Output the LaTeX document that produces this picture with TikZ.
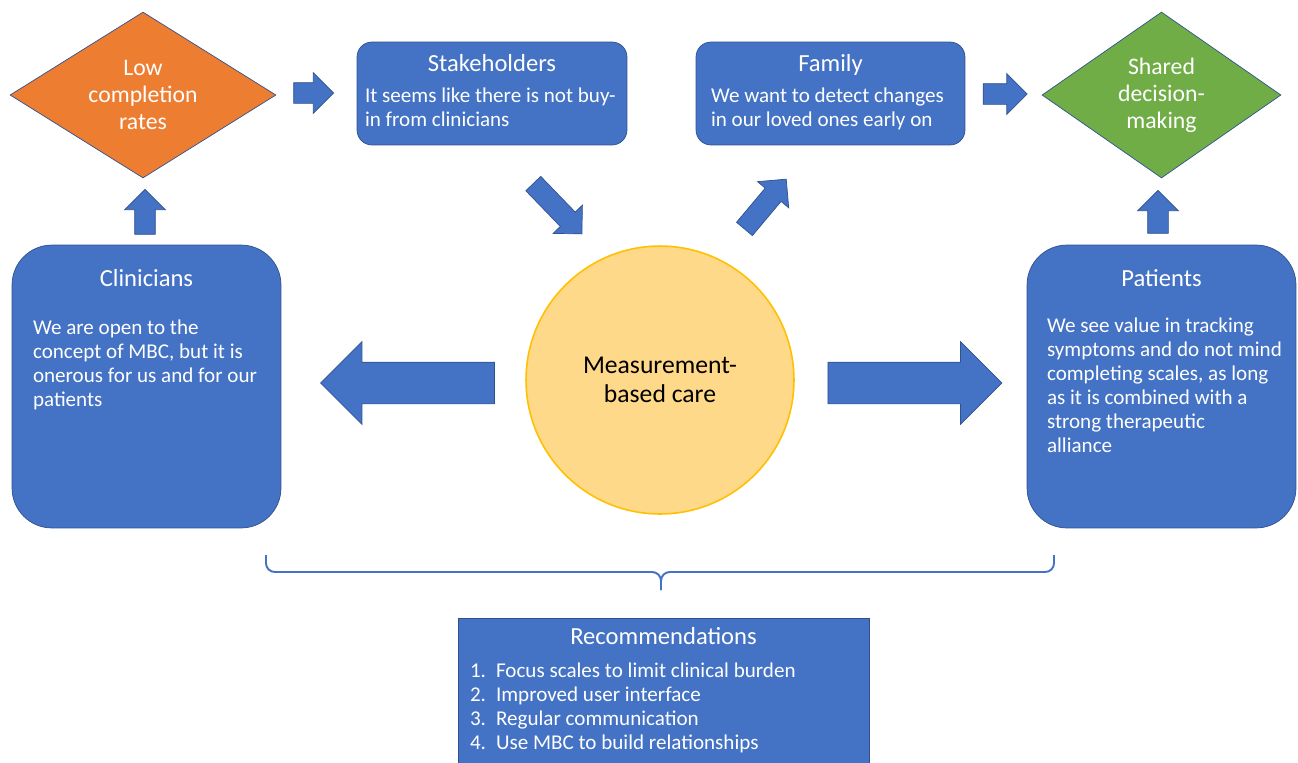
\documentclass[tikz,border=0pt]{standalone}
\usepackage{fontspec}
\setmainfont{Carlito}
\usetikzlibrary{shapes.geometric, shapes.arrows, positioning, calc}
\definecolor{boxblue}{RGB}{68, 114, 196}
\definecolor{edgeblue}{RGB}{47, 82, 143}
\definecolor{loworange}{RGB}{237, 125, 49}
\definecolor{sdmgreen}{RGB}{112, 173, 71}
\definecolor{mbcfill}{RGB}{255, 217, 138}
\definecolor{mbcedge}{RGB}{255, 192, 0}

\begin{document}
\begin{tikzpicture}[
          x=0.02cm, y=-0.02cm,
          box/.style={draw=edgeblue, fill=boxblue, rounded corners=0.3cm,
                      minimum width=5.4cm, minimum height=2.06cm},
          bigbox/.style={draw=edgeblue, fill=boxblue, rounded corners=0.8cm,
                      minimum width=5.38cm, minimum height=5.66cm},
          dia/.style={diamond, aspect=1.6, draw=edgeblue, text=white, align=center, inner sep=0pt,
                      font=\fontsize{13.5}{15.3}\selectfont},
          ttl/.style={text=white, inner sep=0pt, font=\fontsize{14}{16}\selectfont},
          body/.style={text=white, align=left, inner sep=0pt, font=\fontsize{12}{13.6}\selectfont},
          smallarr/.style={single arrow, draw=edgeblue, fill=boxblue, inner xsep=0pt, inner ysep=0.2cm,
                      single arrow head extend=0.2cm, minimum height=#1},
          bigarr/.style={single arrow, draw=edgeblue, fill=boxblue, inner xsep=0pt, inner ysep=0.41cm,
                      single arrow head extend=0.41cm, minimum height=3.48cm},
          bracket/.style={boxblue, line width=1.1pt, rounded corners=5pt},
        ]
        \useasboundingbox (0,0) rectangle (1298,762);

        % top row
        \node[dia, fill=loworange, minimum width=5.32cm, minimum height=3.32cm] (low) at (143,95)
              {Low\\completion\\rates};
        \node[box] (stake) at (492,93.5) {};
        \node[box, minimum width=5.38cm] (fam) at (830.5,93.5) {};
        \node[dia, fill=sdmgreen, minimum width=4.78cm, minimum height=3.32cm] (sdm) at (1161.5,95)
              {Shared\\decision-\\making};

        \node[ttl, below=0.24cm of stake.north] (stakeT) {Stakeholders};
        \node[body, below right=0.92cm and 0.16cm of stake.north west] (stakeB)
              {It seems like there is not buy-\\in from clinicians};
        \node[ttl, below=0.24cm of fam.north] (famT) {Family};
        \node[body, below right=0.92cm and 0.3cm of fam.north west] (famB)
              {We want to detect changes\\in our loved ones early on};

        % middle row
        \node[bigbox] (clin) at (146.5,386.5) {};
        \node[bigbox] (pat) at (1161.5,386.5) {};
        \node[circle, draw=mbcedge, line width=0.9pt, fill=mbcfill, minimum size=5.36cm, align=center,
              font=\fontsize{14.6}{16.4}\selectfont] (mbc) at (660,380) {Measurement-\\based care};

        \node[ttl, below=0.49cm of clin.north] (clinT) {Clinicians};
        \node[body, below right=1.5cm and 0.42cm of clin.north west] (clinB)
              {We are open to the\\concept of MBC, but it is\\onerous for us and for our\\patients};
        \node[ttl, below=0.49cm of pat.north] (patT) {Patients};
        \node[body, below right=1.46cm and 0.4cm of pat.north west] (patB)
              {We see value in tracking\\symptoms and do not mind\\completing scales, as long\\as it is combined with a\\strong therapeutic\\alliance};

        % block arrows
        \node[smallarr=0.8cm] (a1) at (308.5,93) {};
        \node[smallarr=1.4cm, rotate=-46] (a2) at (554,205) {};
        \node[smallarr=1.3cm, rotate=50] (a3) at (762,208) {};
        \node[smallarr=0.88cm] (a4) at (1000,94) {};
        \node[smallarr=0.9cm, rotate=90] (a5) at (145,217) {};
        \node[smallarr=0.86cm, rotate=90] (a6) at (1158,217) {};
        \node[bigarr, rotate=180] (a7) at (418,383) {};
        \node[bigarr] (a8) at (904.5,383) {};

        % bracket and recommendations
        \coordinate (braceL) at (266,555);
        \coordinate (braceR) at (1054,555);
        \coordinate (braceM) at (661,572);
        \coordinate (braceTip) at (661,590);
        \draw[bracket] (braceL) |- (braceM) -- (braceTip);
        \draw[bracket] (braceR) |- (braceM) -- (braceTip);

        \node[draw=edgeblue, fill=boxblue, minimum width=8.22cm, minimum height=2.96cm] (rec) at (663.5,692) {};
        \node[ttl, font=\fontsize{14}{16}\selectfont, below=0.18cm of rec.north] (recT) {Recommendations};
        \node[body, below right=0.9cm and 0.24cm of rec.north west] (recB)
              {1.\hspace{0.2cm}Focus scales to limit clinical burden\\
               2.\hspace{0.2cm}Improved user interface\\
               3.\hspace{0.2cm}Regular communication\\
               4.\hspace{0.2cm}Use MBC to build relationships};
      \end{tikzpicture}
\end{document}
